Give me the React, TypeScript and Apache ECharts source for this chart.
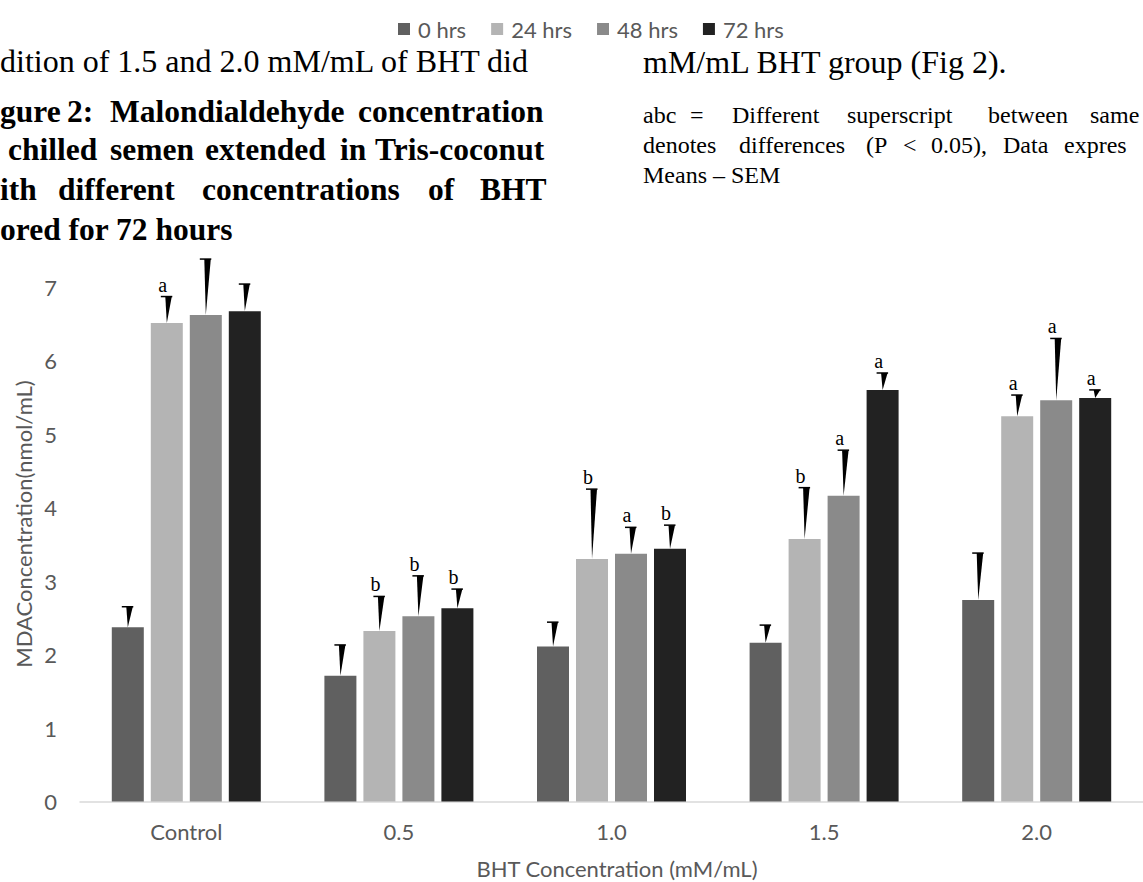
import React, { useEffect, useRef } from "react";
import * as echarts from "echarts";

const categories = ["Control", "0.5", "1.0", "1.5", "2.0"];
const seriesNames = ["0 hrs", "24 hrs", "48 hrs", "72 hrs"];
const mean0 = [2.37, 1.71, 2.11, 2.16, 2.74];
const mean24 = [6.51, 2.32, 3.3, 3.57, 5.24];
const mean48 = [6.62, 2.52, 3.37, 4.16, 5.46];
const mean72 = [6.67, 2.63, 3.44, 5.6, 5.49];
const sem0 = [0.28, 0.42, 0.33, 0.24, 0.64];
const sem24 = [0.36, 0.47, 0.95, 0.7, 0.29];
const sem48 = [0.76, 0.55, 0.36, 0.62, 0.84];
const sem72 = [0.37, 0.26, 0.32, 0.23, 0.11];
const letters0 = ["", "", "", "", ""];
const letters24 = ["a", "b", "b", "b", "a"];
const letters48 = ["", "b", "a", "a", "a"];
const letters72 = ["", "b", "b", "a", "a"];
const yMin = 0;
const yMax = 8;
const yInterval = 1;

const means = [mean0, mean24, mean48, mean72];
const sems = [sem0, sem24, sem48, sem72];
const letters = [letters0, letters24, letters48, letters72];
const colors = ["#606060", "#b4b4b4", "#8a8a8a", "#222222"];

const BAR_W = 32;
const BAR_GAP = 7;
const SANS = "Lato, 'Noto Sans', sans-serif";
const SERIF = "'Liberation Serif', 'Times New Roman', serif";

function txt(text: string, x: number, baseline: number, size: number, bold = false, align = "left") {
  return {
    type: "text",
    z: 100,
    x,
    y: baseline - 0.34 * size,
    style: {
      text,
      font: `${bold ? "bold " : ""}${size}px ${SERIF}`,
      fill: "#000",
      textAlign: align,
      textVerticalAlign: "middle",
    },
  };
}

export default function App() {
  const ref = useRef<HTMLDivElement>(null);
  useEffect(() => {
    if (!ref.current) return;
    const chart = echarts.init(ref.current, null, { renderer: "svg" });

    const barSeries = seriesNames.map((name, i) => ({
      name,
      type: "bar",
      barWidth: BAR_W,
      barGap: `${(BAR_GAP / BAR_W) * 100}%`,
      itemStyle: { color: colors[i] },
      data: means[i],
      z: 2,
    }));

    const errSeries = seriesNames.map((name, i) => ({
      type: "custom",
      name: name + " err",
      z: 5,
      silent: true,
      data: categories.map((_, k) => [k, means[i][k], sems[i][k]]),
      renderItem: (params: any, api: any) => {
        const ci = api.value(0);
        const m = api.value(1);
        const s = api.value(2);
        const p0 = api.coord([ci, m]);
        const p1 = api.coord([ci, m + s]);
        const cx = p0[0] + (i - 1.5) * (BAR_W + BAR_GAP);
        const y0 = p0[1];
        const y1 = p1[1];
        const children: any[] = [
          {
            type: "polygon",
            shape: { points: [[cx, y0], [cx - 1.5, y1], [cx + 5, y1]] },
            style: { fill: "#000" },
          },
          {
            type: "line",
            shape: { x1: cx - 6, y1: y1, x2: cx + 5.5, y2: y1 },
            style: { stroke: "#000", lineWidth: 1.5 },
          },
        ];
        const L = letters[i][params.dataIndex];
        if (L) {
          children.push({
            type: "text",
            x: cx - 4,
            y: y1 - 12,
            style: {
              text: L,
              font: `20px ${SERIF}`,
              fill: "#000",
              textAlign: "center",
              textVerticalAlign: "middle",
            },
          });
        }
        return { type: "group", children };
      },
    }));

    const graphics: any[] = [
      txt("dition of 1.5 and 2.0 mM/mL of BHT did", 0, 72, 32),
      txt("gure", 0, 122, 31.5, true),
      txt("2:", 67, 122, 31.5, true),
      txt("Malondialdehyde", 110, 122, 31.5, true),
      txt("concentration", 358, 122, 31.5, true),
      txt("chilled", 8, 160, 31.5, true),
      txt("semen", 110, 160, 31.5, true),
      txt("extended", 205, 160, 31.5, true),
      txt("in", 340, 160, 31.5, true),
      txt("Tris-coconut", 375, 160, 31.5, true),
      txt("ith", 0, 200, 31.5, true),
      txt("different", 58, 200, 31.5, true),
      txt("concentrations", 202, 200, 31.5, true),
      txt("of", 428, 200, 31.5, true),
      txt("BHT", 480, 200, 31.5, true),
      txt("ored for 72 hours", 0, 240, 31.5, true),
      txt("mM/mL BHT group (Fig 2).", 643, 73, 32),
      txt("abc", 643, 123, 24),
      txt("=", 690, 123, 24),
      txt("Different", 732, 123, 24),
      txt("superscript", 847, 123, 24),
      txt("between", 988, 123, 24),
      txt("same", 1090, 123, 24),
      txt("denotes", 643, 153, 24),
      txt("differences", 739, 153, 24),
      txt("(P", 866, 153, 24),
      txt("<", 903, 153, 24),
      txt("0.05),", 931, 153, 24),
      txt("Data", 1003, 153, 24),
      txt("expres", 1064, 153, 24),
      txt("Means – SEM", 643, 183, 24),
      {
        type: "text",
        x: 23,
        y: 524,
        rotation: Math.PI / 2,
        style: {
          text: "MDAConcentration(nmol/mL)",
          font: `22px ${SANS}`,
          fill: "#595959",
          textAlign: "center",
          textVerticalAlign: "middle",
        },
      },
      {
        type: "text",
        x: 617,
        y: 868,
        style: {
          text: "BHT Concentration (mM/mL)",
          font: `22px ${SANS}`,
          fill: "#595959",
          textAlign: "center",
          textVerticalAlign: "middle",
        },
      },
    ];

    chart.setOption({
      animation: false,
      backgroundColor: "#ffffff",
      legend: {
        data: seriesNames.map((n) => ({ name: n, icon: "rect" })),
        left: 393,
        top: 13,
        itemWidth: 12,
        itemHeight: 12,
        itemGap: 25,
        textStyle: { fontFamily: SANS, fontSize: 22, color: "#595959", padding: [0, 0, 0, 3] },
      },
      grid: { left: 80, top: 213.5, width: 1076, height: 588, containLabel: false },
      xAxis: {
        type: "category",
        data: categories,
        axisLine: { show: true, lineStyle: { color: "#d9d9d9", width: 1.5 } },
        axisTick: { show: false },
        axisLabel: { fontFamily: SANS, fontSize: 22, color: "#595959", margin: 19 },
        splitLine: { show: false },
      },
      yAxis: {
        type: "value",
        min: yMin,
        max: yMax,
        interval: yInterval,
        axisLine: { show: false },
        axisTick: { show: false },
        splitLine: { show: false },
        axisLabel: { fontFamily: SANS, fontSize: 22, color: "#595959", margin: 23, showMaxLabel: false },
      },
      graphic: graphics,
      series: [...barSeries, ...errSeries],
    });
    return () => chart.dispose();
  }, []);
  return (
    <div
      ref={ref}
      style={{ position: "absolute", left: 0, top: 0, width: 1143, height: 882, background: "#fff" }}
    />
  );
}
